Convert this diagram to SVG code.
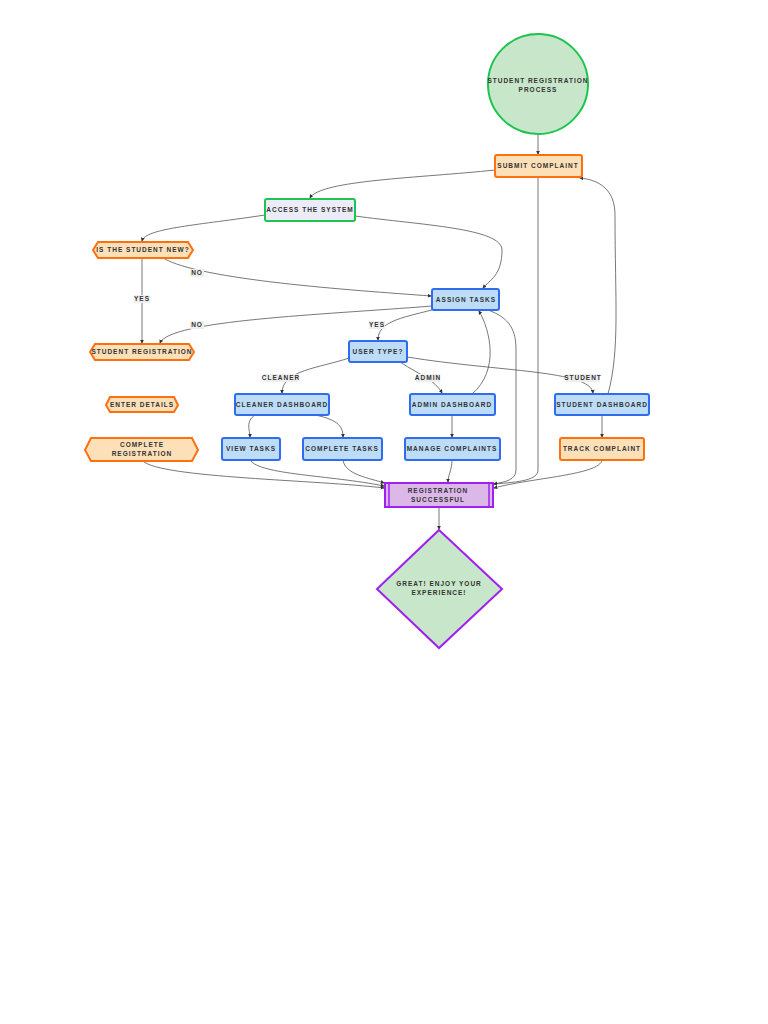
<svg xmlns="http://www.w3.org/2000/svg" width="768" height="1024" viewBox="0 0 768 1024">
<style>
text{font-family:"Liberation Sans",Arial,sans-serif;font-size:6.5px;font-weight:bold;letter-spacing:1px;fill:#333;text-anchor:middle}
.or{fill:#fde0b8;stroke:#ff7010;stroke-width:2}
.bl{fill:#bcdcf8;stroke:#2f6cf0;stroke-width:2}
.gr{fill:#ececf8;stroke:#1fc450;stroke-width:2}
.pu{fill:#dcb8e8;stroke:#a020f0;stroke-width:2}
.e path{fill:none;stroke:#555;stroke-width:0.8;marker-end:url(#a)}
.lb{fill:#eee}
</style>
<defs><marker id="a" viewBox="0 0 6 6" refX="5" refY="3" markerWidth="5" markerHeight="5" orient="auto"><path d="M0,0L6,3L0,6z" fill="#333"/></marker></defs>
<rect width="768" height="1024" fill="#fff"/>
<g class="e">
<path d="M538,134V154"/>
<path d="M495,170C420,178 320,180 310,198"/>
<path d="M265,215C200,225 145,228 142,241"/>
<path d="M355,216C420,225 502,228 502,250C502,275 490,280 483,288"/>
<path d="M142,258V343"/>
<path d="M163,258C200,280 350,290 431,296"/>
<path d="M432,306C320,315 170,320 160,343"/>
<path d="M432,310C400,318 378,322 378,340"/>
<path d="M349,358C320,368 282,370 282,393"/>
<path d="M400,362C420,375 435,380 442,393"/>
<path d="M407,357C500,372 590,370 593,393"/>
<path d="M255,415C245,422 250,430 250,437"/>
<path d="M315,415C340,420 343,428 343,437"/>
<path d="M452,415V437"/>
<path d="M472,394C500,370 490,330 479,311"/>
<path d="M602,415V437"/>
<path d="M608,394C620,350 615,300 615,215C615,190 600,180 580,178"/>
<path d="M538,177V470C538,480 520,482 494,484"/>
<path d="M488,310C510,318 516,330 516,350V470C516,480 505,482 494,484"/>
<path d="M143,461C160,478 320,480 384,488"/>
<path d="M250,460C260,475 330,475 384,486"/>
<path d="M343,460C345,475 370,478 384,483"/>
<path d="M452,460C452,470 448,475 448,482"/>
<path d="M602,460C600,475 530,478 494,488"/>
<path d="M439,507V529"/>
</g>
<g id="labels">
<rect class="lb" x="134" y="295" width="16" height="8"/><text x="142" y="301">YES</text>
<rect class="lb" x="190" y="269" width="14" height="8"/><text x="197" y="275">NO</text>
<rect class="lb" x="190" y="321" width="14" height="8"/><text x="197" y="327">NO</text>
<rect class="lb" x="369" y="321" width="16" height="8"/><text x="377" y="327">YES</text>
<rect class="lb" x="264" y="374" width="34" height="8"/><text x="281" y="380">CLEANER</text>
<rect class="lb" x="416" y="374" width="24" height="8"/><text x="428" y="380">ADMIN</text>
<rect class="lb" x="566" y="374" width="34" height="8"/><text x="583" y="380">STUDENT</text>
</g>
<g id="start"><circle cx="538" cy="84" r="50" fill="#c8e6c9" stroke="#1fc450" stroke-width="2"/><text x="538" y="83">STUDENT REGISTRATION</text><text x="538" y="92">PROCESS</text></g>
<g id="submit"><rect class="or" x="495" y="155" width="87" height="22" rx="2"/><text x="538" y="168">SUBMIT COMPLAINT</text></g>
<g id="access"><rect class="gr" x="265" y="199" width="90" height="22" rx="2"/><text x="310" y="212">ACCESS THE SYSTEM</text></g>
<g id="isnew"><polygon class="or" points="98,242 188,242 193,250 188,258 98,258 93,250"/><text x="143" y="252">IS THE STUDENT NEW?</text></g>
<g id="assign"><rect class="bl" x="432" y="289" width="67" height="21" rx="2"/><text x="466" y="302">ASSIGN TASKS</text></g>
<g id="studreg"><polygon class="or" points="95,344 189,344 194,352 189,360 95,360 90,352"/><text x="142" y="354">STUDENT REGISTRATION</text></g>
<g id="usertype"><rect class="bl" x="349" y="341" width="58" height="21" rx="2"/><text x="378" y="354">USER TYPE?</text></g>
<g id="cleaner"><rect class="bl" x="235" y="394" width="94" height="21" rx="2"/><text x="282" y="407">CLEANER DASHBOARD</text></g>
<g id="admin"><rect class="bl" x="410" y="394" width="85" height="21" rx="2"/><text x="452" y="407">ADMIN DASHBOARD</text></g>
<g id="studdash"><rect class="bl" x="555" y="394" width="94" height="21" rx="2"/><text x="602" y="407">STUDENT DASHBOARD</text></g>
<g id="enter"><polygon class="or" points="110,397 174,397 178,405 174,412 110,412 106,405"/><text x="142" y="407">ENTER DETAILS</text></g>
<g id="compreg"><polygon class="or" points="91,438 192,438 198,450 192,461 91,461 85,450"/><text x="142" y="447">COMPLETE</text><text x="142" y="456">REGISTRATION</text></g>
<g id="view"><rect class="bl" x="222" y="438" width="58" height="22" rx="2"/><text x="251" y="451">VIEW TASKS</text></g>
<g id="comptasks"><rect class="bl" x="303" y="438" width="79" height="22" rx="2"/><text x="342" y="451">COMPLETE TASKS</text></g>
<g id="manage"><rect class="bl" x="405" y="438" width="95" height="22" rx="2"/><text x="452" y="451">MANAGE COMPLAINTS</text></g>
<g id="track"><rect class="or" x="560" y="438" width="84" height="22" rx="2"/><text x="602" y="451">TRACK COMPLAINT</text></g>
<g id="success"><rect class="pu" x="385" y="483" width="108" height="24"/><line x1="389" y1="483" x2="389" y2="507" stroke="#a020f0" stroke-width="1.5"/><line x1="489" y1="483" x2="489" y2="507" stroke="#a020f0" stroke-width="1.5"/><text x="438" y="493">REGISTRATION</text><text x="438" y="502">SUCCESSFUL</text></g>
<g id="great"><polygon points="439,530 502,589 439,648 377,589" fill="#c8e6c9" stroke="#a020f0" stroke-width="2"/><text x="439" y="586">GREAT! ENJOY YOUR</text><text x="439" y="595">EXPERIENCE!</text></g>
</svg>
